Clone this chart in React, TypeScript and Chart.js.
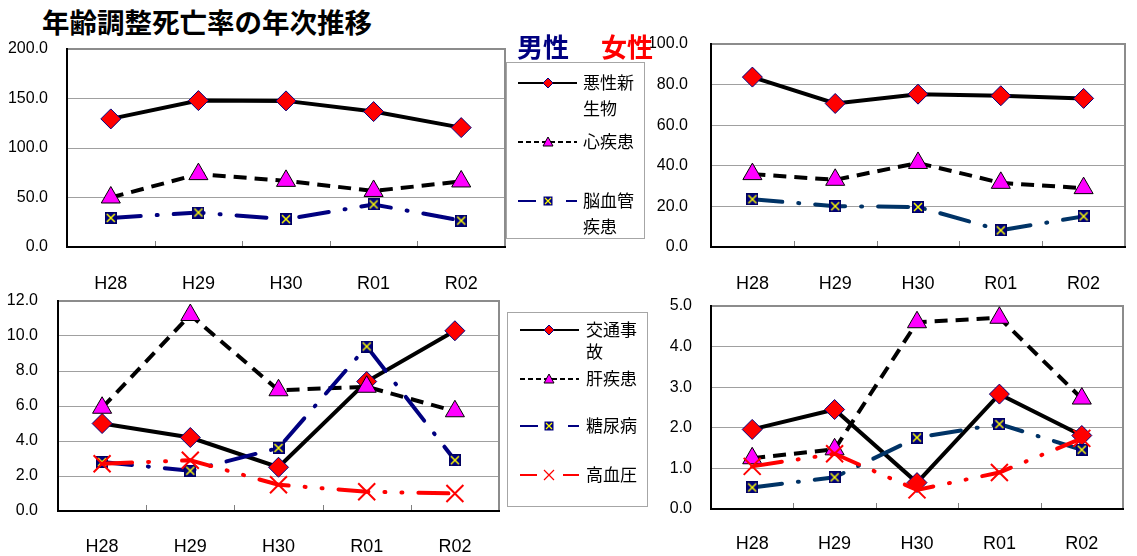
import React, { useEffect, useRef } from 'react';
import { Chart, registerables } from 'chart.js';

Chart.register(...registerables);

// ---------- data ----------
const years = ['H28', 'H29', 'H30', 'R01', 'R02'];

const maleMalignant = [129.4, 147.9, 147.6, 136.8, 120.6];
const maleHeart = [50.0, 73.6, 66.8, 56.6, 66.2];
const maleCerebro = [29.4, 34.8, 28.1, 43.0, 26.7];

const femaleMalignant = [83.7, 70.7, 75.3, 74.5, 73.2];
const femaleHeart = [35.9, 33.1, 41.4, 31.6, 29.0];
const femaleCerebro = [23.5, 20.1, 19.7, 8.2, 15.1];

const maleTraffic = [5.0, 4.2, 2.5, 7.4, 10.3];
const maleLiver = [5.9, 11.2, 6.9, 7.1, 5.7];
const maleDiabetes = [2.8, 2.3, 3.6, 9.4, 2.9];
const maleHypertension = [2.7, 2.9, 1.5, 1.1, 1.0];

const femaleTraffic = [1.96, 2.45, 0.65, 2.83, 1.81];
const femaleLiver = [1.25, 1.47, 4.6, 4.71, 2.72];
const femaleDiabetes = [0.53, 0.78, 1.76, 2.09, 1.46];
const femaleHypertension = [1.05, 1.36, 0.47, 0.9, 1.74];

const mainLabels = [['悪性新', '生物'], ['心疾患'], ['脳血管', '疾患']];
const otherLabels = [['交通事', '故'], ['肝疾患'], ['糖尿病'], ['高血圧']];

const titleText = '年齢調整死亡率の年次推移';
const maleText = '男性';
const femaleText = '女性';

// ---------- styles ----------
const NAVY = '#000080';
const TEAL = '#003366';
const RED = '#FF0000';
const MAGENTA = '#FF00FF';
const CJK = '"Noto Sans CJK JP", "Noto Sans", sans-serif';
const LATIN = '"Liberation Sans", Arial, sans-serif';
const Y_FONT = 16;

type Kind = 'diamond' | 'triangle' | 'squareX' | 'cross';

function makeSquareX(size: number) {
  const c = document.createElement('canvas');
  c.width = size;
  c.height = size;
  const g = c.getContext('2d')!;
  g.fillStyle = NAVY;
  g.fillRect(0, 0, size, size);
  g.strokeStyle = '#000060';
  g.lineWidth = 1;
  g.strokeRect(0.5, 0.5, size - 1, size - 1);
  g.strokeStyle = '#FFFF00';
  g.lineWidth = 1.5;
  g.beginPath();
  g.moveTo(2, 2);
  g.lineTo(size - 2, size - 2);
  g.moveTo(size - 2, 2);
  g.lineTo(2, size - 2);
  g.stroke();
  return c;
}

function drawMarker(ctx: CanvasRenderingContext2D, kind: Kind, x: number, y: number, r: number) {
  ctx.save();
  ctx.setLineDash([]);
  ctx.beginPath();
  if (kind === 'diamond') {
    ctx.moveTo(x, y - r);
    ctx.lineTo(x + r, y);
    ctx.lineTo(x, y + r);
    ctx.lineTo(x - r, y);
    ctx.closePath();
    ctx.fillStyle = RED;
    ctx.fill();
    ctx.strokeStyle = NAVY;
    ctx.lineWidth = 1;
    ctx.stroke();
  } else if (kind === 'triangle') {
    ctx.moveTo(x, y - r);
    ctx.lineTo(x + r, y + r * 0.8);
    ctx.lineTo(x - r, y + r * 0.8);
    ctx.closePath();
    ctx.fillStyle = MAGENTA;
    ctx.fill();
    ctx.strokeStyle = '#000';
    ctx.lineWidth = 1;
    ctx.stroke();
  } else if (kind === 'squareX') {
    ctx.fillStyle = NAVY;
    ctx.fillRect(x - r, y - r, 2 * r, 2 * r);
    ctx.strokeStyle = '#FFFF00';
    ctx.lineWidth = 1.2;
    ctx.moveTo(x - r + 1.5, y - r + 1.5);
    ctx.lineTo(x + r - 1.5, y + r - 1.5);
    ctx.moveTo(x + r - 1.5, y - r + 1.5);
    ctx.lineTo(x - r + 1.5, y + r - 1.5);
    ctx.stroke();
  } else {
    ctx.strokeStyle = RED;
    ctx.lineWidth = 1.2;
    ctx.moveTo(x - r, y - r);
    ctx.lineTo(x + r, y + r);
    ctx.moveTo(x + r, y - r);
    ctx.lineTo(x - r, y + r);
    ctx.stroke();
  }
  ctx.restore();
}

function series(label: string, data: number[], kind: Kind, color: string, squareImg: HTMLCanvasElement, idx: number) {
  const base: any = {
    label,
    data,
    borderColor: color,
    backgroundColor: color,
    borderWidth: 4,
    tension: 0,
    fill: false,
    order: -idx,
    pointBorderWidth: 1,
    kind,
  };
  if (kind === 'diamond') {
    Object.assign(base, {
      pointStyle: 'rectRot', pointRadius: 10, pointBackgroundColor: RED, pointBorderColor: NAVY,
      borderDash: [], legendDash: [],
    });
  } else if (kind === 'triangle') {
    Object.assign(base, {
      pointStyle: 'triangle', pointRadius: 11, pointBackgroundColor: MAGENTA, pointBorderColor: '#000',
      borderDash: [13, 8], legendDash: [5, 3],
    });
  } else if (kind === 'squareX') {
    Object.assign(base, {
      pointStyle: squareImg, pointRadius: 7,
      borderDash: [30, 16, 1, 16], borderCapStyle: 'round', legendDash: [18, 30],
    });
  } else {
    Object.assign(base, {
      pointStyle: 'crossRot', pointRadius: 12, pointBorderWidth: 2, pointBorderColor: RED,
      borderDash: [30, 16, 1, 16, 1, 16], borderCapStyle: 'round', legendDash: [17, 26],
    });
  }
  return base;
}

type PanelCfg = {
  // plot rectangle in page coordinates
  plot: { left: number; top: number; right: number; bottom: number };
  canvasLeft: number;
  canvasRight: number;
  xH: number;
  yMax: number;
  yStep: number;
  yPad: number;
  xPad: number;
  legend?: {
    x: number; y: number; w: number; h: number;
    entries: number[]; lineH: number; x1: number; x2: number; mx: number; tx: number;
    labels: string[][];
  };
};

const framePlugin = {
  id: 'frame',
  beforeDatasetsDraw(chart: any) {
    const { ctx, chartArea: a } = chart;
    const n = years.length;
    ctx.save();
    // inside tick marks at category boundaries
    ctx.strokeStyle = '#808080';
    ctx.lineWidth = 1;
    ctx.beginPath();
    for (let i = 1; i < n; i++) {
      const x = Math.round(a.left + ((a.right - a.left) * i) / n) + 0.5;
      ctx.moveTo(x, a.bottom);
      ctx.lineTo(x, a.bottom - 6);
    }
    ctx.stroke();
    // top & right border gray
    ctx.strokeStyle = '#8c8c8c';
    ctx.lineWidth = 2;
    ctx.beginPath();
    ctx.moveTo(a.left, a.top);
    ctx.lineTo(a.right, a.top);
    ctx.lineTo(a.right, a.bottom);
    ctx.stroke();
    // left & bottom black
    ctx.strokeStyle = '#000';
    ctx.beginPath();
    ctx.moveTo(a.left, a.top - 1);
    ctx.lineTo(a.left, a.bottom);
    ctx.lineTo(a.right + 1, a.bottom);
    ctx.stroke();
    ctx.restore();
  },
  afterDraw(chart: any, _args: any, opts: any) {
    const lg = opts && opts.legend;
    if (!lg) return;
    const ox = opts.ox || 0;
    const oy = opts.oy || 0;
    const ctx: CanvasRenderingContext2D = chart.ctx;
    ctx.save();
    ctx.translate(-ox, -oy);
    ctx.strokeStyle = '#a6a6a6';
    ctx.lineWidth = 1;
    ctx.strokeRect(lg.x + 0.5, lg.y + 0.5, lg.w, lg.h);
    chart.data.datasets.forEach((ds: any, i: number) => {
      const y = lg.entries[i];
      ctx.beginPath();
      ctx.setLineDash(ds.legendDash);
      ctx.strokeStyle = ds.borderColor;
      ctx.lineWidth = 2;
      ctx.lineCap = 'butt';
      ctx.moveTo(lg.x1, y);
      ctx.lineTo(lg.x2, y);
      ctx.stroke();
      ctx.setLineDash([]);
      const r = ds.kind === 'squareX' ? 4.5 : 5;
      drawMarker(ctx, ds.kind, lg.mx, y, r);
      ctx.fillStyle = '#000';
      ctx.font = `17px ${CJK}`;
      ctx.textBaseline = 'middle';
      ctx.textAlign = 'left';
      lg.labels[i].forEach((t: string, j: number) => ctx.fillText(t, lg.tx, y + j * lg.lineH));
    });
    ctx.restore();
  },
};

function Panel({ cfg, build }: { cfg: PanelCfg; build: (img: HTMLCanvasElement) => any[] }) {
  const ref = useRef<HTMLCanvasElement>(null);
  const p = cfg.plot;
  // Chart.js reserves (half label height + tick padding) above the y axis
  const topReserve = Y_FONT / 2 + cfg.yPad;
  const cTop = p.top - topReserve;
  const cLeft = cfg.canvasLeft;
  const cW = cfg.canvasRight - cLeft;
  const cH = p.bottom + cfg.xH - cTop;
  useEffect(() => {
    const canvas = ref.current!;
    const img = makeSquareX(12);
    const datasets = build(img);
    const chart = new Chart(canvas, {
      type: 'line',
      data: { labels: years, datasets },
      plugins: [framePlugin],
      options: {
        responsive: false,
        animation: false,
        events: [],
        layout: { padding: { left: 0, top: 0, right: cfg.canvasRight - p.right, bottom: 0 } },
        plugins: {
          legend: { display: false },
          tooltip: { enabled: false },
          title: { display: false },
          frame: { legend: cfg.legend, ox: cLeft, oy: cTop },
        } as any,
        scales: {
          x: {
            type: 'category',
            offset: true,
            grid: { display: false, drawTicks: false },
            border: { display: false },
            ticks: {
              color: '#000',
              font: { family: LATIN, size: 18, lineHeight: 1 },
              padding: cfg.xPad,
              maxRotation: 0,
              autoSkip: false,
            },
            afterFit: (s: any) => { s.height = cfg.xH; },
          },
          y: {
            min: 0,
            max: cfg.yMax,
            grid: { color: '#a0a0a0', lineWidth: 1, drawTicks: false },
            border: { display: false },
            ticks: {
              stepSize: cfg.yStep,
              color: '#000',
              font: { family: LATIN, size: Y_FONT, lineHeight: 1 },
              padding: cfg.yPad,
              callback: (v: any) => Number(v).toFixed(1),
            },
            afterFit: (s: any) => { s.width = p.left - cLeft; },
          },
        },
      },
    });
    return () => chart.destroy();
  }, []);
  return (
    <canvas
      ref={ref}
      width={cW}
      height={cH}
      style={{ position: 'absolute', left: cLeft, top: cTop, width: cW, height: cH }}
    />
  );
}

const tlCfg: PanelCfg = {
  plot: { left: 67, top: 49, right: 505, bottom: 247 },
  canvasLeft: 0, canvasRight: 650, xH: 53,
  yMax: 200, yStep: 50, yPad: 19, xPad: 28,
  legend: {
    x: 506, y: 62, w: 138, h: 176,
    entries: [83, 142, 201], lineH: 26, x1: 518, x2: 577, mx: 548, tx: 583,
    labels: mainLabels,
  },
};

const trCfg: PanelCfg = {
  plot: { left: 711, top: 44, right: 1135, bottom: 247 },
  canvasLeft: 650, canvasRight: 1137, xH: 53,
  yMax: 100, yStep: 20, yPad: 23, xPad: 28,
};

const blCfg: PanelCfg = {
  plot: { left: 58, top: 301, right: 499, bottom: 511 },
  canvasLeft: 0, canvasRight: 650, xH: 45,
  yMax: 12, yStep: 2, yPad: 20, xPad: 27,
  legend: {
    x: 507, y: 312, w: 140, h: 194,
    entries: [330, 379, 426, 475], lineH: 22, x1: 520, x2: 579, mx: 549, tx: 586,
    labels: otherLabels,
  },
};

const brCfg: PanelCfg = {
  plot: { left: 711, top: 306, right: 1134, bottom: 509 },
  canvasLeft: 650, canvasRight: 1137, xH: 47,
  yMax: 5, yStep: 1, yPad: 19, xPad: 26,
};

export default function App() {
  return (
    <div style={{ position: 'absolute', left: 0, top: 0, width: 1137, height: 556, background: '#fff', overflow: 'hidden' }}>
      <div style={{ position: 'absolute', left: 42, top: 6, fontFamily: CJK, fontWeight: 'bold', fontSize: 27.5, lineHeight: '30px', whiteSpace: 'nowrap', color: '#000' }}>
        {titleText}
      </div>
      <Panel
        cfg={tlCfg}
        build={(img) => [
          series(mainLabels[0].join(''), maleMalignant, 'diamond', '#000', img, 0),
          series(mainLabels[1].join(''), maleHeart, 'triangle', '#000', img, 1),
          series(mainLabels[2].join(''), maleCerebro, 'squareX', NAVY, img, 2),
        ]}
      />
      <Panel
        cfg={trCfg}
        build={(img) => [
          series(mainLabels[0].join(''), femaleMalignant, 'diamond', '#000', img, 0),
          series(mainLabels[1].join(''), femaleHeart, 'triangle', '#000', img, 1),
          series(mainLabels[2].join(''), femaleCerebro, 'squareX', TEAL, img, 2),
        ]}
      />
      <Panel
        cfg={blCfg}
        build={(img) => [
          series(otherLabels[0].join(''), maleTraffic, 'diamond', '#000', img, 0),
          series(otherLabels[1].join(''), maleLiver, 'triangle', '#000', img, 1),
          series(otherLabels[2].join(''), maleDiabetes, 'squareX', NAVY, img, 2),
          series(otherLabels[3].join(''), maleHypertension, 'cross', RED, img, 3),
        ]}
      />
      <Panel
        cfg={brCfg}
        build={(img) => [
          series(otherLabels[0].join(''), femaleTraffic, 'diamond', '#000', img, 0),
          series(otherLabels[1].join(''), femaleLiver, 'triangle', '#000', img, 1),
          series(otherLabels[2].join(''), femaleDiabetes, 'squareX', TEAL, img, 2),
          series(otherLabels[3].join(''), femaleHypertension, 'cross', RED, img, 3),
        ]}
      />
      <div style={{ position: 'absolute', left: 517, top: 31, fontFamily: CJK, fontWeight: 'bold', fontSize: 26, lineHeight: '30px', whiteSpace: 'nowrap', color: NAVY }}>
        {maleText}
      </div>
      <div style={{ position: 'absolute', left: 601, top: 31, fontFamily: CJK, fontWeight: 'bold', fontSize: 26, lineHeight: '30px', whiteSpace: 'nowrap', color: RED }}>
        {femaleText}
      </div>
    </div>
  );
}
